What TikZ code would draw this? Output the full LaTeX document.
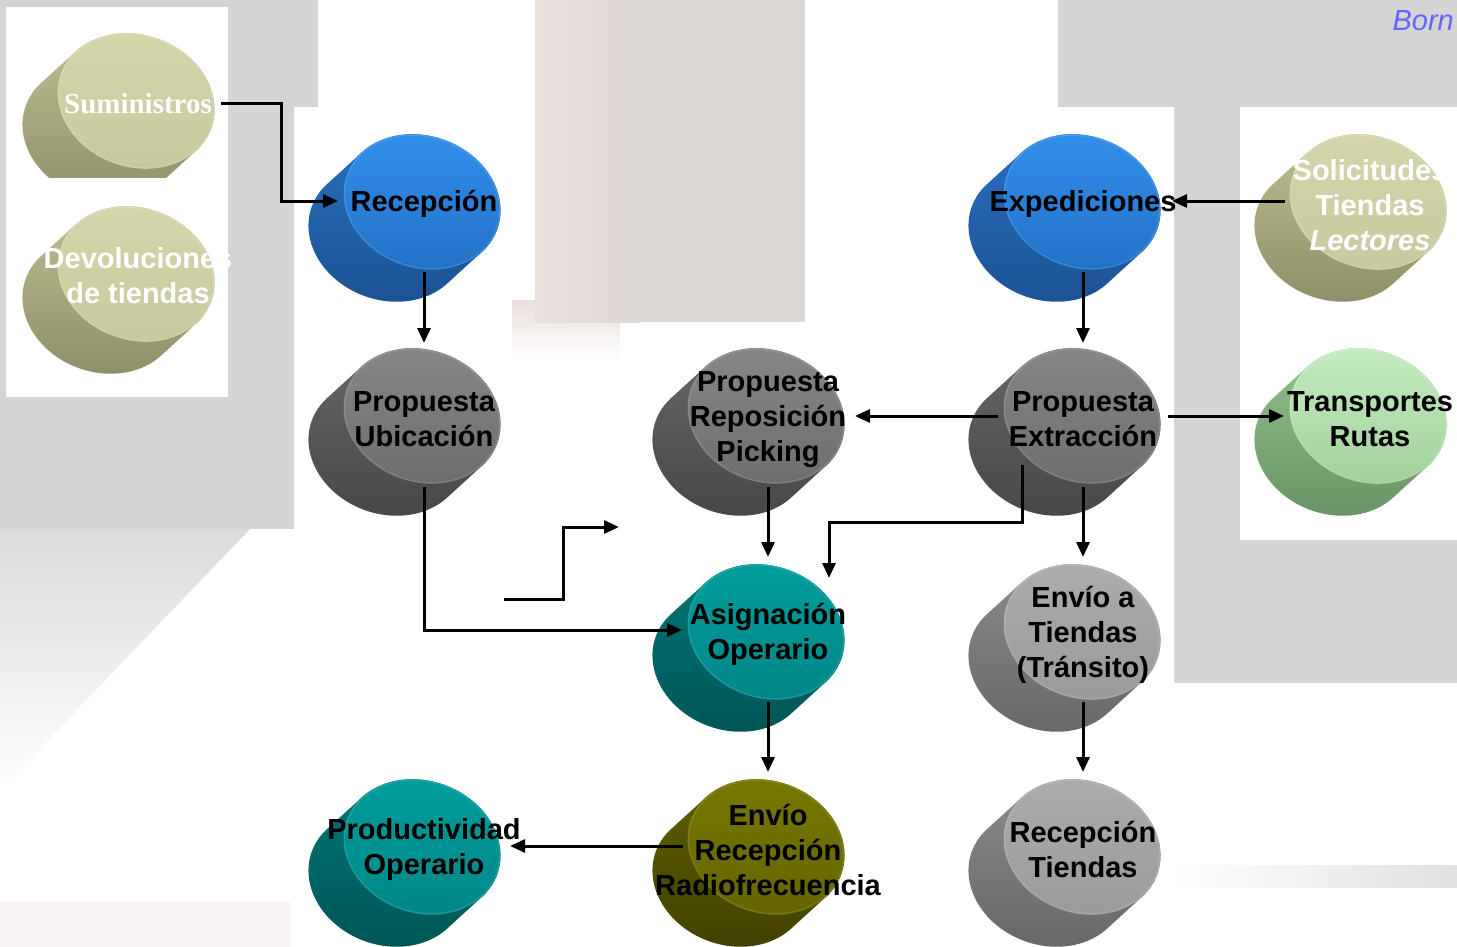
\documentclass[tikz,border=0pt]{standalone}
\usepackage{fontspec}
\setmainfont{Liberation Sans}
\newfontfamily\serifbold{Liberation Serif}
\usetikzlibrary{arrows.meta,calc}
\definecolor{bgA}{HTML}{D4D4D4}
\definecolor{bgP}{HTML}{DDD7D6}
\definecolor{bgP2}{HTML}{EAE0DE}
\definecolor{bornc}{HTML}{6464FF}
\definecolor{blueFa}{HTML}{3290EC}\definecolor{blueFb}{HTML}{2270C4}
\definecolor{blueBa}{HTML}{2F7AD0}\definecolor{blueBb}{HTML}{164884}
\definecolor{dgFa}{HTML}{888888}\definecolor{dgFb}{HTML}{6C6C6C}
\definecolor{dgBa}{HTML}{727272}\definecolor{dgBb}{HTML}{3C3C3C}
\definecolor{lgFa}{HTML}{ADADAD}\definecolor{lgFb}{HTML}{999999}
\definecolor{lgBa}{HTML}{979797}\definecolor{lgBb}{HTML}{5C5C5C}
\definecolor{beFa}{HTML}{D6D6AC}\definecolor{beFb}{HTML}{C8C8A0}
\definecolor{beBa}{HTML}{D0D09E}\definecolor{beBb}{HTML}{7E7E5C}
\definecolor{grFa}{HTML}{C6EEC2}\definecolor{grFb}{HTML}{A0CE9A}
\definecolor{grBa}{HTML}{A2D29A}\definecolor{grBb}{HTML}{5A8458}
\definecolor{teFa}{HTML}{009E9E}\definecolor{teFb}{HTML}{008585}
\definecolor{teBa}{HTML}{008282}\definecolor{teBb}{HTML}{004A4A}
\definecolor{olFa}{HTML}{787800}\definecolor{olFb}{HTML}{646400}
\definecolor{olBa}{HTML}{686800}\definecolor{olBb}{HTML}{383800}
\newcommand{\blobshape}[5]{%
  \begin{scope}[shift={#1}, rotate=-20]
    \begin{scope}
      \path[clip] foreach \k in {0,...,12} { ({-22*\k/12},{42*\k/12}) ellipse [x radius=80, y radius=66] };
      \shade[top color=#4, bottom color=#5] (-130,-90) rectangle (110,130);
    \end{scope}
    \shade[top color=#2, bottom color=#3] (0,0) ellipse [x radius=80, y radius=66];
    \draw[white, opacity=0.12, line width=1.2pt] (0,0) ellipse [x radius=79, y radius=65];
  \end{scope}}
\tikzset{
  lbl/.style={font=\bfseries\fontsize{29}{35}\selectfont, align=center, text=black, inner sep=3pt, yshift=-3pt},
  wlbl/.style={lbl, text=white},
  arr/.style={line width=3pt, -{Triangle[length=15pt,width=13pt]}},
}
\begin{document}
\begin{tikzpicture}[x=1pt, y=-1pt]
\useasboundingbox (0,0) rectangle (1457,947);
% background
\fill[white] (0,0) rectangle (1457,947);
\fill[bgA] (0,0) rectangle (294,529);
\fill[bgA] (228,0) rectangle (318,107);
\fill[white] (6,7) rectangle (228,397);
\shade[top color=bgA!85, bottom color=white] (0,529) -- (250,529) -- (0,790) -- cycle;
\shade[top color=bgP2, bottom color=white] (512,300) rectangle (620,360);
\fill[bgP] (535,0) rectangle (805,322);
\shade[left color=bgP2, right color=bgP] (535,0) rectangle (640,322);
\fill[bgA] (1058,0) rectangle (1457,107);
\fill[bgA] (1174,107) rectangle (1240,683);
\fill[bgA] (1240,540) rectangle (1457,683);
\shade[left color=white, right color=bgA!70] (1174,865) rectangle (1457,887);
\fill[bgP2!40] (0,902) rectangle (290,947);
% blobs
\begin{scope}
  \clip (0,0) rectangle (300,178);
  \blobshape{(136,101)}{beFa}{beFb}{beBa}{beBb}
\end{scope}
\blobshape{(136,274)}{beFa}{beFb}{beBa}{beBb}
\blobshape{(422,202)}{blueFa}{blueFb}{blueBa}{blueBb}
\blobshape{(1082,202)}{blueFa}{blueFb}{blueBa}{blueBb}
\blobshape{(1368,202)}{beFa}{beFb}{beBa}{beBb}
\blobshape{(422,416)}{dgFa}{dgFb}{dgBa}{dgBb}
\blobshape{(766,416)}{dgFa}{dgFb}{dgBa}{dgBb}
\blobshape{(1082,416)}{dgFa}{dgFb}{dgBa}{dgBb}
\blobshape{(1368,416)}{grFa}{grFb}{grBa}{grBb}
\blobshape{(766,632)}{teFa}{teFb}{teBa}{teBb}
\blobshape{(1082,632)}{lgFa}{lgFb}{lgBa}{lgBb}
\blobshape{(422,847)}{teFa}{teFb}{teBa}{teBb}
\blobshape{(766,847)}{olFa}{olFb}{olBa}{olBb}
\blobshape{(1082,847)}{lgFa}{lgFb}{lgBa}{lgBb}
% labels
\node[wlbl, font=\serifbold\bfseries\fontsize{29}{35}\selectfont] (sum) at (138,101) {Suministros};
\node[wlbl] (dev) at (138,273) {Devoluciones\\de tiendas};
\node[lbl] (rec) at (424,201) {Recepción};
\node[lbl] (exp) at (1083,201) {Expediciones};
\node[wlbl] (sol) at (1370,202) {Solicitudes\\Tiendas\\\itshape Lectores};
\node[lbl] (pu) at (424,416) {Propuesta\\Ubicación};
\node[lbl] (prp) at (768,417) {Propuesta\\Reposición\\Picking};
\node[lbl] (pe) at (1083,416) {Propuesta\\Extracción};
\node[lbl] (tr) at (1370,416) {Transportes\\Rutas};
\node[lbl] (ao) at (768,631) {Asignación\\Operario};
\node[lbl] (et) at (1083,632) {Envío a\\Tiendas\\(Tránsito)};
\node[lbl] (pro) at (424,846) {Productividad\\Operario};
\node[lbl] (erf) at (768,847) {Envío\\Recepción\\Radiofrecuencia};
\node[lbl] (rt) at (1083,846) {Recepción\\Tiendas};
\node[anchor=east, text=bornc, inner sep=0pt, font=\itshape\fontsize{29}{35}\selectfont] (born) at (1454,21) {Born};
% connectors (offsets from label centres, which sit 3pt lower)
\draw[arr] ($(sum.east)+(6,0)$) -- ++(60,0) |- ($(rec)+(-86,-3)$);
\draw[arr] ($(rec)+(0,68)$) -- ($(pu)+(0,-76)$);
\draw[arr] ($(exp)+(0,68)$) -- ($(pe)+(0,-76)$);
\draw[arr] ($(sol)+(-85,-4)$) -- ($(exp)+(89,-3)$);
\draw[arr] ($(pe)+(-85,-3)$) -- ($(prp)+(87,-4)$);
\draw[arr] ($(pe)+(85,-3)$) -- ($(tr)+(-86,-3)$);
\draw[arr] ($(pe)+(-61,46)$) |- ($(ao)+(61,-112)$) -- ($(ao)+(61,-56)$);
\draw[arr] ($(pe)+(0,68)$) -- ($(et)+(0,-78)$);
\draw[arr] ($(prp)+(0,67)$) -- ($(ao)+(0,-77)$);
\draw[arr] ($(pu)+(0,68)$) |- ($(ao)+(-86,-4)$);
\coordinate (f1) at (504,599);
\coordinate (f2) at (619,527);
\draw[arr] (f1) -- ++(59,0) |- (f2);
\draw[arr] ($(ao)+(0,68)$) -- ($(erf)+(0,-78)$);
\draw[arr] ($(et)+(0,67)$) -- ($(rt)+(0,-77)$);
\draw[arr] ($(erf)+(-85,-4)$) -- ($(pro)+(86,-3)$);
\end{tikzpicture}
\end{document}
